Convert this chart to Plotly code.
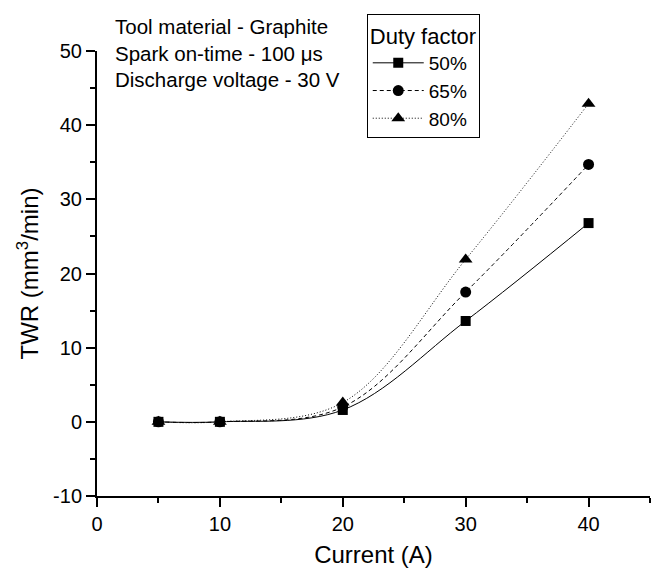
import plotly.graph_objects as go

current = [5, 10, 20, 30, 40]
twr_50 = [0.0, 0.0, 1.6, 13.6, 26.8]
twr_65 = [0.0, 0.0, 2.0, 17.5, 34.7]
twr_80 = [0.0, 0.0, 2.6, 21.9, 42.9]
series_names = ["50%", "65%", "80%"]
y_tickvals = [-10, 0, 10, 20, 30, 40, 50]
y_ticktext = ["-10", "0", "10", "20", "30", "40", "50"]
x_tickvals = [0, 10, 20, 30, 40]

L, R, T, B = 97, 5.5, 50.7, 71.5
W, H = 656, 568
pw, ph = W - L - R, H - T - B

fig = go.Figure()
styles = [("solid", "square", 10), ("4px,3px", "circle", 11), ("1px,2px", "triangle-up", 12)]
for name, ys, (dash, sym, ms) in zip(series_names, [twr_50, twr_65, twr_80], styles):
    fig.add_trace(go.Scatter(
        x=current, y=ys, name=name, mode="lines+markers",
        line=dict(color="black", width=1, dash=dash, shape="spline", smoothing=1.0),
        marker=dict(symbol=sym, size=ms, color="black"),
    ))

font = "Liberation Sans, Arial, sans-serif"
fig.update_layout(
    width=W, height=H,
    margin=dict(l=L, r=R, t=T, b=B),
    plot_bgcolor="white", paper_bgcolor="white",
    font=dict(family=font, size=20, color="black"),
    legend=dict(
        title=dict(text="Duty factor", font=dict(size=22)),
        x=(367 - L) / pw, y=(H - B - 14) / ph, xanchor="left", yanchor="top",
        bordercolor="black", borderwidth=1, bgcolor="white",
        font=dict(size=19), tracegroupgap=0, itemwidth=51,
    ),
    xaxis=dict(
        range=[0, 45], tickvals=x_tickvals, showline=True, linecolor="black", linewidth=2,
        ticks="outside", ticklen=9, tickwidth=2, tickcolor="black",
        minor=dict(dtick=5, ticks="outside", ticklen=5, tickwidth=2, tickcolor="black"),
        showgrid=False, zeroline=False, automargin=False,
        title=dict(text="Current (A)", standoff=13),
    ),
    yaxis=dict(
        range=[-10, 50], tickvals=y_tickvals, ticktext=y_ticktext,
        showline=True, linecolor="black", linewidth=2,
        ticks="outside", ticklen=9, tickwidth=2, tickcolor="black",
        minor=dict(dtick=5, ticks="outside", ticklen=5, tickwidth=2, tickcolor="black"),
        showgrid=False, zeroline=False, automargin=False,
        title=dict(text="TWR (mm<sup>3</sup>/min)", standoff=8),
    ),
    annotations=[dict(
        text="Tool material - Graphite<br>Spark on-time - 100 μs<br>Discharge voltage - 30 V",
        xref="paper", yref="paper", x=(113 - L) / pw, y=(H - B - 13) / ph,
        xanchor="left", yanchor="top", showarrow=False, align="left",
        font=dict(size=20.5, family=font),
    )],
)
fig.write_html("out.html")
